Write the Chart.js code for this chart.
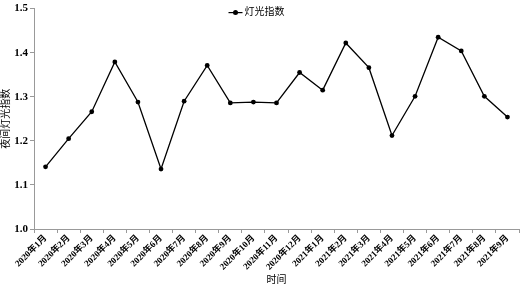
<!DOCTYPE html>
<html>
<head>
<meta charset="utf-8">
<script src="https://cdn.jsdelivr.net/npm/chart.js@4"></script>
<style>
  html, body { margin: 0; padding: 0; background: #fff; }
  #wrap { width: 523px; height: 287px; }
</style>
</head>
<body>
<div id="wrap"><canvas id="c"></canvas></div>
<script>
const months = ['2020年1月', '2020年2月', '2020年3月', '2020年4月', '2020年5月', '2020年6月',
  '2020年7月', '2020年8月', '2020年9月', '2020年10月', '2020年11月', '2020年12月',
  '2021年1月', '2021年2月', '2021年3月', '2021年4月', '2021年5月', '2021年6月',
  '2021年7月', '2021年8月', '2021年9月'];
const lightIndex = [1.141, 1.205, 1.266, 1.379, 1.288, 1.136, 1.290, 1.371, 1.286, 1.288, 1.286,
  1.355, 1.315, 1.422, 1.366, 1.212, 1.301, 1.435, 1.404, 1.301, 1.254];
const seriesName = '灯光指数';
const yTitle = '夜间灯光指数';
const xTitle = '时间';

const serif = "'Liberation Serif', 'Noto Sans CJK SC', serif";

// legend sits inside the plot, near the top, like the original
const topLegend = {
  id: 'topLegend',
  afterDraw(chart) {
    const c = chart.ctx;
    const area = chart.chartArea;
    const ds = chart.data.datasets[0];
    c.save();
    c.font = '10px ' + serif;
    const tw = c.measureText(ds.label).width;
    const x0 = (area.left + area.right) / 2 - (14 + 2 + tw) / 2 - 20;
    const y = area.top + 4;
    c.strokeStyle = ds.borderColor;
    c.lineWidth = 1.2;
    c.beginPath(); c.moveTo(x0, y); c.lineTo(x0 + 14, y); c.stroke();
    c.fillStyle = ds.backgroundColor;
    c.beginPath(); c.arc(x0 + 7, y, 2.5, 0, Math.PI * 2); c.fill();
    c.fillStyle = '#000';
    c.textBaseline = 'middle';
    c.fillText(ds.label, x0 + 16, y);
    c.restore();
  }
};

const ctx = document.getElementById('c').getContext('2d');
new Chart(ctx, {
  type: 'line',
  data: {
    labels: months,
    datasets: [{
      label: seriesName,
      data: lightIndex,
      borderColor: '#000',
      backgroundColor: '#000',
      borderWidth: 1.3,
      pointRadius: 2.4,
      pointBorderWidth: 0,
      tension: 0,
    }]
  },
  plugins: [topLegend],
  options: {
    responsive: true,
    maintainAspectRatio: false,
    animation: false,
    layout: { padding: { top: 5, right: 2, left: 0, bottom: 0 } },
    plugins: {
      tooltip: { enabled: false },
      legend: { display: false }
    },
    scales: {
      x: {
        offset: true,
        grid: { offset: true, drawOnChartArea: false, tickLength: 4, color: '#999' },
        border: { color: '#999' },
        ticks: {
          autoSkip: false,
          minRotation: 45,
          maxRotation: 45,
          padding: 0,
          color: '#000',
          font: { family: serif, size: 9, weight: 'bold' }
        },
        title: {
          display: true,
          text: xTitle,
          color: '#000',
          padding: { top: 0, bottom: 1 },
          font: { family: serif, size: 10 }
        },
        afterFit: s => { s.height = 58; }
      },
      y: {
        min: 1.0,
        max: 1.5,
        grid: { drawOnChartArea: false, tickLength: 4, color: '#999' },
        border: { color: '#999' },
        ticks: {
          stepSize: 0.1,
          padding: 2,
          color: '#000',
          font: { family: serif, size: 11, weight: 'bold' },
          callback: v => v.toFixed(1)
        },
        title: {
          display: true,
          text: yTitle,
          color: '#000',
          padding: 0,
          font: { family: serif, size: 10 }
        },
        afterFit: s => { s.width = 34; }
      }
    }
  }
});
</script>
</body>
</html>
